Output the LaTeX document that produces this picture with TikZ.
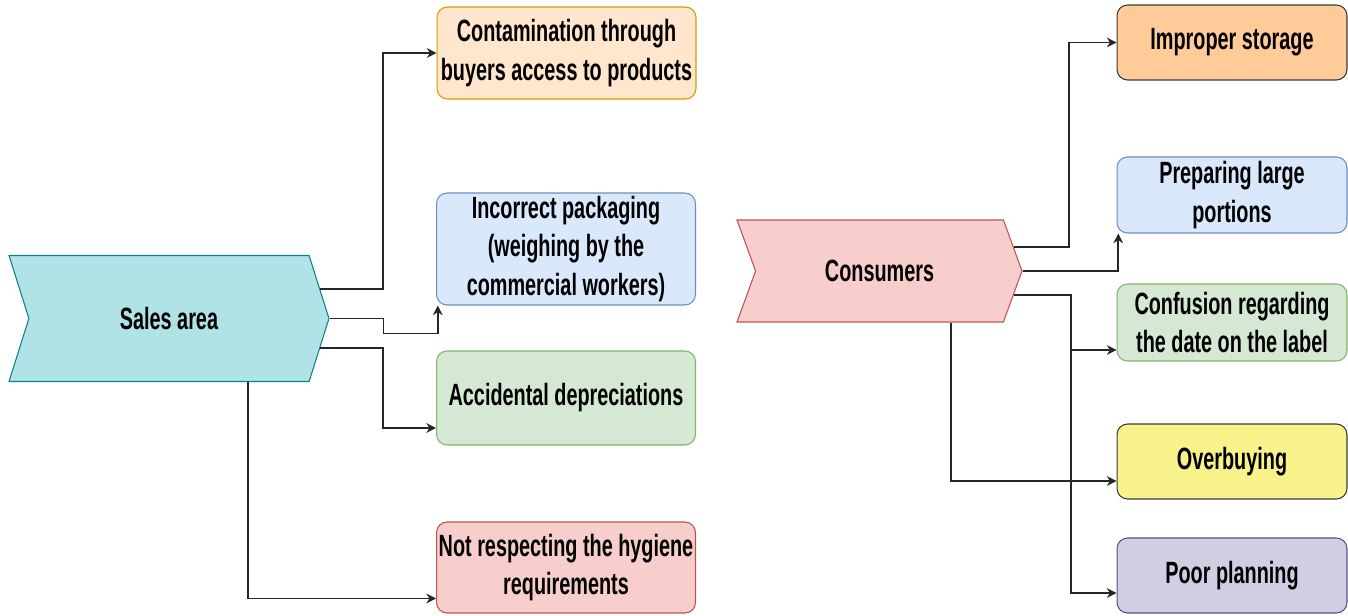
\documentclass[tikz,border=0pt]{standalone}
\usepackage{fontspec}
\setmainfont{Liberation Sans}[FakeStretch=0.645]
\usetikzlibrary{arrows.meta,shapes.symbols}

\definecolor{salesfill}{HTML}{B0E3E6}
\definecolor{salesline}{HTML}{0E8088}
\definecolor{redfill}{HTML}{F8CECC}
\definecolor{redline}{HTML}{B85450}
\definecolor{peachfill}{HTML}{FFE6CC}
\definecolor{peachline}{HTML}{D79B00}
\definecolor{bluefill}{HTML}{DAE8FC}
\definecolor{blueline}{HTML}{6C8EBF}
\definecolor{greenfill}{HTML}{D5E8D4}
\definecolor{greenline}{HTML}{82B366}
\definecolor{orangefill}{HTML}{FFCC99}
\definecolor{yellowfill}{HTML}{F7F28A}
\definecolor{darkline}{HTML}{36393D}
\definecolor{purplefill}{HTML}{D0CEE2}
\definecolor{purpleline}{HTML}{56517E}

\begin{document}
\begin{tikzpicture}[x=0.02cm, y=-0.02cm,
    every node/.style={font=\bfseries\fontsize{17.5}{22}\selectfont, align=center},
    box/.style={draw, rounded corners=6pt, inner sep=1pt, line width=0.6pt},
    chev/.style={draw, shape=signal, signal from=west, signal to=east, inner sep=0pt, line width=0.6pt},
    conn/.style={line width=1pt, draw=black!85, -{Stealth[length=5.5pt,width=5.5pt]}}]
    \useasboundingbox (0,0) rectangle (1348,615);

    % Fletxes principals
    \node[chev, fill=salesfill, draw=salesline, minimum width=6.4cm, minimum height=2.52cm,
          signal pointer angle=145] (sales) at (169,318.5) {Sales area};
    \node[chev, fill=redfill, draw=redline, minimum width=5.7cm, minimum height=2.04cm,
          signal pointer angle=140] (cons) at (879.5,271) {Consumers};

    % Caixes de l'esquerra
    \node[box, fill=peachfill, draw=peachline, minimum width=5.18cm, minimum height=1.84cm]
        (cont) at (566.5,53) {Contamination through\\buyers access to products};
    \node[box, fill=bluefill, draw=blueline, minimum width=5.18cm, minimum height=2.24cm]
        (pack) at (566,249) {Incorrect packaging\\(weighing by the\\commercial workers)};
    \node[box, fill=greenfill, draw=greenline, minimum width=5.18cm, minimum height=1.88cm]
        (dep) at (566,398) {Accidental depreciations};
    \node[box, fill=redfill, draw=redline, minimum width=5.18cm, minimum height=1.82cm]
        (hyg) at (566,567.5) {Not respecting the hygiene\\requirements};

    % Caixes de la dreta
    \node[box, fill=orangefill, draw=darkline, minimum width=4.6cm, minimum height=1.5cm]
        (stor) at (1232,42.5) {Improper storage};
    \node[box, fill=bluefill, draw=blueline, minimum width=4.6cm, minimum height=1.52cm]
        (port) at (1232,195) {Preparing large\\portions};
    \node[box, fill=greenfill, draw=greenline, minimum width=4.6cm, minimum height=1.54cm]
        (conf) at (1232,322.5) {Confusion regarding\\the date on the label};
    \node[box, fill=yellowfill, draw=darkline, minimum width=4.6cm, minimum height=1.5cm]
        (over) at (1232,461.5) {Overbuying};
    \node[box, fill=purplefill, draw=purpleline, minimum width=4.6cm, minimum height=1.5cm]
        (plan) at (1232,575.5) {Poor planning};

    % Connexions
    \draw[conn] (sales.11) -- ++(63,0) |- (cont.west);
    \draw[conn] (sales.east) -- ++(54,0) -- ++(0,15) -| ([xshift=1pt]pack.south west);
    \draw[conn] (sales.-11) -- ++(63,0) |- ([yshift=-0.6cm]dep.west);
    \draw[conn] ([xshift=1.58cm]sales.south) |- ([yshift=-0.62cm]hyg.west);

    \draw[conn] (cons.10) -- ++(55,0) |- (stor.west);
    \draw[conn] (cons.east) -| ([xshift=1pt]port.south west);
    \draw[conn] (cons.-10) -- ++(57,0) |- ([yshift=-0.55cm]conf.west);
    \draw[conn] (cons.-10) -- ++(57,0) |- ([yshift=-0.35cm]plan.west);
    \draw[conn] ([xshift=1.43cm]cons.south) |- ([yshift=-0.39cm]over.west);
\end{tikzpicture}
\end{document}
